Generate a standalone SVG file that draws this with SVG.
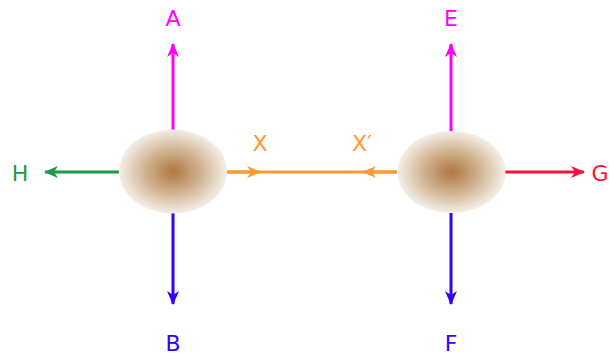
<svg xmlns="http://www.w3.org/2000/svg" width="610" height="356" viewBox="0 0 610 356">
<style>
.lbl{font-family:"DejaVu Sans",sans-serif;font-size:22px;text-anchor:middle;dominant-baseline:central}
.ln{stroke-width:3;fill:none}
</style>
<defs>
<radialGradient id="blob" cx="50%" cy="50%" r="50%">
<stop offset="0" stop-color="#ad7840"/>
<stop offset="0.5" stop-color="#cfb18e"/>
<stop offset="0.85" stop-color="#e9dccc"/>
<stop offset="1" stop-color="#f4eee6"/>
</radialGradient>
<marker id="mM" viewBox="0 0 14 12" refX="13" refY="6" markerWidth="14" markerHeight="12" markerUnits="userSpaceOnUse" orient="auto"><path d="M0,0 L14,6 L0,12 L4,6 z" fill="#ff00ff"/></marker>
<marker id="mB" viewBox="0 0 14 12" refX="13" refY="6" markerWidth="14" markerHeight="12" markerUnits="userSpaceOnUse" orient="auto"><path d="M0,0 L14,6 L0,12 L4,6 z" fill="#3300ff"/></marker>
<marker id="mG" viewBox="0 0 14 12" refX="13" refY="6" markerWidth="14" markerHeight="12" markerUnits="userSpaceOnUse" orient="auto"><path d="M0,0 L14,6 L0,12 L4,6 z" fill="#1e9a46"/></marker>
<marker id="mR" viewBox="0 0 14 12" refX="13" refY="6" markerWidth="14" markerHeight="12" markerUnits="userSpaceOnUse" orient="auto"><path d="M0,0 L14,6 L0,12 L4,6 z" fill="#ff1133"/></marker>
<marker id="mO" viewBox="0 0 14 12" refX="13" refY="6" markerWidth="14" markerHeight="12" markerUnits="userSpaceOnUse" orient="auto"><path d="M0,0 L14,6 L0,12 L4,6 z" fill="#ff9933"/></marker>
</defs>
<g id="connectors">
<line class="ln" x1="173" y1="130" x2="173" y2="44" stroke="#ff00ff" marker-end="url(#mM)"/>
<line class="ln" x1="173" y1="213" x2="173" y2="304" stroke="#3300ff" marker-end="url(#mB)"/>
<line class="ln" x1="119" y1="172" x2="45" y2="172" stroke="#1e9a46" marker-end="url(#mG)"/>
<line class="ln" x1="451" y1="132" x2="451" y2="44" stroke="#ff00ff" marker-end="url(#mM)"/>
<line class="ln" x1="451" y1="213" x2="451" y2="304" stroke="#3300ff" marker-end="url(#mB)"/>
<line class="ln" x1="505" y1="172" x2="584" y2="172" stroke="#ff1133" marker-end="url(#mR)"/>
<line class="ln" x1="227" y1="172" x2="397" y2="172" stroke="#ff9933"/>
<line class="ln" x1="227" y1="172" x2="260" y2="172" stroke="#ff9933" marker-end="url(#mO)"/>
<line class="ln" x1="397" y1="172" x2="363" y2="172" stroke="#ff9933" marker-end="url(#mO)"/>
</g>
<g id="node-left"><ellipse cx="173" cy="171.5" rx="54" ry="42" fill="url(#blob)"/></g>
<g id="node-right"><ellipse cx="451.5" cy="172" rx="54" ry="41" fill="url(#blob)"/></g>
<g id="label-A"><text class="lbl" x="173" y="18" fill="#ff00ff">A</text></g>
<g id="label-B"><text class="lbl" x="173" y="343" fill="#3300ff">B</text></g>
<g id="label-H"><text class="lbl" x="20" y="173" fill="#1e9a46">H</text></g>
<g id="label-E"><text class="lbl" x="451" y="18" fill="#ff00ff">E</text></g>
<g id="label-F"><text class="lbl" x="451" y="343" fill="#3300ff">F</text></g>
<g id="label-G"><text class="lbl" x="600" y="173" fill="#ff1133">G</text></g>
<g id="label-X"><text class="lbl" x="260" y="143" fill="#ff9933">X</text></g>
<g id="label-Xp"><text class="lbl" x="362" y="143" fill="#ff9933">X′</text></g>
</svg>
